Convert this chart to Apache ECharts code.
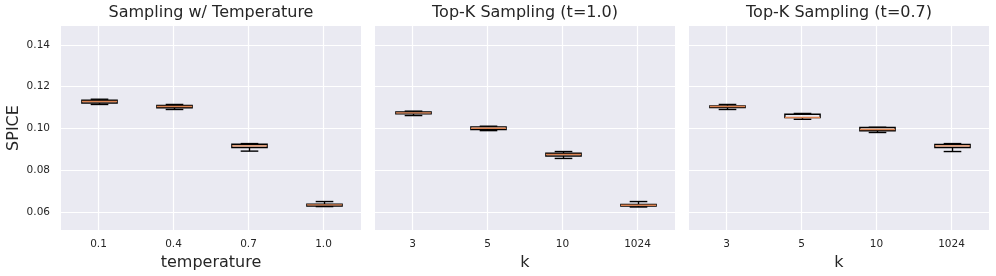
<!DOCTYPE html>
<html><head><meta charset="utf-8">
<script src="https://cdn.jsdelivr.net/npm/echarts@6/dist/echarts.min.js"></script>
<style>html,body{margin:0;padding:0;background:#fff}#c{width:996px;height:276px}</style>
</head><body><div id="c"></div>
<script>
const tempCategories = ['0.1', '0.4', '0.7', '1.0'];
const kCategories = ['3', '5', '10', '1024'];
const panelTitles = ['Sampling w/ Temperature', 'Top-K Sampling (t=1.0)', 'Top-K Sampling (t=0.7)'];
const xNames = ['temperature', 'k', 'k'];
const yName = 'SPICE';
// each entry: [lower whisker, Q1, median, Q3, upper whisker]
const tempBoxes = [
  [0.1115, 0.1122, 0.1129, 0.1135, 0.1140],
  [0.1091, 0.1099, 0.1105, 0.1110, 0.1115],
  [0.0892, 0.0909, 0.0917, 0.0925, 0.0928],
  [0.0627, 0.0630, 0.0635, 0.0638, 0.0651]
];
const topk10Boxes = [
  [0.1062, 0.1070, 0.1075, 0.1079, 0.1083],
  [0.0990, 0.0995, 0.1001, 0.1008, 0.1011],
  [0.0857, 0.0869, 0.0876, 0.0882, 0.0890],
  [0.0625, 0.0629, 0.0633, 0.0637, 0.0651]
];
const topk07Boxes = [
  [0.1091, 0.1100, 0.1105, 0.1108, 0.1115],
  [0.1044, 0.1052, 0.1053, 0.1068, 0.1072],
  [0.0981, 0.0989, 0.0995, 0.1005, 0.1006],
  [0.0890, 0.0909, 0.0917, 0.0924, 0.0928]
];
const yTicks = [0.06, 0.08, 0.10, 0.12, 0.14];

const FONT = 'DejaVu Sans';
const TXT = '#262626';
const panels = [
  {cats: tempCategories, boxes: tempBoxes},
  {cats: kCategories, boxes: topk10Boxes},
  {cats: kCategories, boxes: topk07Boxes}
];
const gridLefts = [61, 375, 689];
const gridW = 300, gridTop = 26, gridH = 204;

function renderBox(params, api) {
  const x = api.value(0);
  const lo = api.coord([x, api.value(1)])[1];
  const q1 = api.coord([x, api.value(2)])[1];
  const med = api.coord([x, api.value(3)])[1];
  const q3 = api.coord([x, api.value(4)])[1];
  const hi = api.coord([x, api.value(5)])[1];
  const w = api.size([1, 0])[0] * 0.47;
  const cx = Math.round(api.coord([x, api.value(3)])[0]) + 0.5;
  const hw = w / 2, qw = w / 4;
  const black = {stroke: '#000', lineWidth: 1.4, fill: 'rgba(0,0,0,0)'};
  return {
    type: 'group',
    children: [
      {type: 'line', shape: {x1: cx, y1: q3, x2: cx, y2: hi}, style: black},
      {type: 'line', shape: {x1: cx, y1: q1, x2: cx, y2: lo}, style: black},
      {type: 'line', shape: {x1: cx - qw, y1: hi, x2: cx + qw, y2: hi}, style: black},
      {type: 'line', shape: {x1: cx - qw, y1: lo, x2: cx + qw, y2: lo}, style: black},
      {type: 'rect', shape: {x: cx - hw, y: q3, width: 2 * hw, height: q1 - q3}, style: black},
      {type: 'line', shape: {x1: cx - hw, y1: med, x2: cx + hw, y2: med}, style: {stroke: '#DD8452', lineWidth: 1.4, fill: 'rgba(0,0,0,0)'}}
    ]
  };
}

const grid = [], xAxis = [], yAxis = [], series = [], graphic = [];
panels.forEach((p, i) => {
  grid.push({left: gridLefts[i], top: gridTop, width: gridW, height: gridH,
    show: true, backgroundColor: '#EAEAF2', borderWidth: 0});
  xAxis.push({
    type: 'value', gridIndex: i, min: 0.5, max: 4.5, minInterval: 1, maxInterval: 1,
    axisLine: {show: false}, axisTick: {show: false},
    splitLine: {show: true, showMinLine: false, showMaxLine: false, lineStyle: {color: '#fff', width: 1.2}},
    axisLabel: {showMinLabel: false, showMaxLabel: false, margin: 9, color: TXT, fontFamily: FONT, fontSize: 10.5,
      formatter: v => (Number.isInteger(v) && p.cats[v - 1]) ? p.cats[v - 1] : ''},
    name: xNames[i], nameLocation: 'middle', nameGap: 22,
    nameTextStyle: {color: TXT, fontFamily: FONT, fontSize: 16}
  });
  yAxis.push({
    type: 'value', gridIndex: i, min: 0.0515, max: 0.149, minInterval: 0.02, maxInterval: 0.02,
    axisLine: {show: false}, axisTick: {show: false},
    splitLine: {show: true, showMinLine: false, showMaxLine: false, lineStyle: {color: '#fff', width: 1.2}},
    axisLabel: {show: i === 0, showMinLabel: false, showMaxLabel: false, margin: 11, color: TXT, fontFamily: FONT, fontSize: 10.5,
      formatter: v => yTicks.some(t => Math.abs(t - v) < 1e-6) ? v.toFixed(2) : ''},
    name: i === 0 ? yName : '', nameLocation: 'middle', nameGap: 39, nameRotate: 90,
    nameTextStyle: {color: TXT, fontFamily: FONT, fontSize: 16}
  });
  series.push({
    type: 'custom', xAxisIndex: i, yAxisIndex: i, renderItem: renderBox, clip: false,
    itemStyle: {color: 'rgba(0,0,0,0)'},
    encode: {x: 0, y: [1, 2, 3, 4, 5]},
    data: p.boxes.map((b, j) => [j + 1].concat(b))
  });
  graphic.push({type: 'text', x: gridLefts[i] + gridW / 2, y: 13,
    style: {text: panelTitles[i], align: 'center', verticalAlign: 'middle', font: '16px "DejaVu Sans"', fill: TXT}});
});

const chart = echarts.init(document.getElementById('c'), null, {renderer: 'canvas'});
chart.setOption({animation: false, backgroundColor: '#fff', grid, xAxis, yAxis, series, graphic});
</script></body></html>
